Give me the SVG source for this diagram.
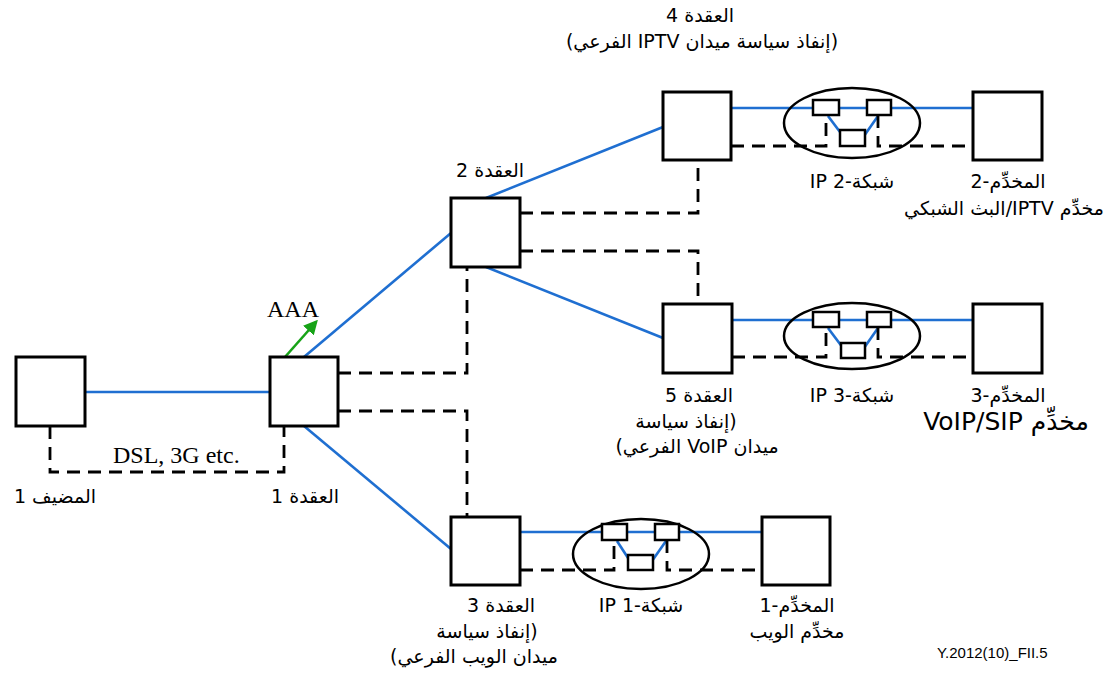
<svg xmlns="http://www.w3.org/2000/svg" width="1115" height="673" viewBox="0 0 1115 673">
  <style>
    .box { fill: #fff; stroke: #000; stroke-width: 3; }
    .sbox { fill: #fff; stroke: #000; stroke-width: 2.5; }
    .net { fill: none; stroke: #000; stroke-width: 2.5; }
    .blue { fill: none; stroke: #1f6fd1; stroke-width: 2.6; }
    .dash { fill: none; stroke: #000; stroke-width: 2.8; stroke-dasharray: 13 8; }
    .ar { font-family: "DejaVu Sans", "Noto Sans", sans-serif; font-size: 19px; fill: #000; text-anchor: middle; direction: rtl; unicode-bidi: embed; }
    .lat { font-family: "Liberation Serif", "Times New Roman", serif; font-size: 24px; fill: #000; }
    .ref { font-family: "Liberation Sans", Arial, sans-serif; font-size: 15px; fill: #000; }
  </style>
  <defs>
    <marker id="greenHead" viewBox="0 0 10 10" refX="8" refY="5" markerWidth="5.5" markerHeight="5.5" orient="auto">
      <path d="M0,0 L10,5 L0,10 Z" fill="#17a317"/>
    </marker>
  </defs>
  <rect width="1115" height="673" fill="#fff"/>

  <!-- connectors -->
  <g id="connectors">
    <!-- solid blue links -->
    <line class="blue" x1="85" y1="392" x2="270" y2="392"/>
    <line class="blue" x1="304" y1="357" x2="451" y2="233"/>
    <line class="blue" x1="304" y1="426" x2="451" y2="549"/>
    <line class="blue" x1="486" y1="198" x2="663" y2="127"/>
    <line class="blue" x1="486" y1="267" x2="663" y2="338"/>
    <line class="blue" x1="731" y1="108" x2="973" y2="108"/>
    <line class="blue" x1="732" y1="320" x2="973" y2="320"/>
    <line class="blue" x1="520" y1="532" x2="762" y2="532"/>
    <!-- links inside the IP networks -->
    <polyline class="blue" points="828,116 843,136"/>
    <polyline class="blue" points="878,116 864,136"/>
    <polyline class="blue" points="828,328 843,348"/>
    <polyline class="blue" points="878,328 864,348"/>
    <polyline class="blue" points="617,541 630,561"/>
    <polyline class="blue" points="666,541 652,561"/>

    <!-- dashed control paths -->
    <polyline class="dash" points="50,426 50,472 284,472 284,426"/>
    <polyline class="dash" points="338,373 467,373 467,267"/>
    <polyline class="dash" points="338,411 467,411 467,517"/>
    <polyline class="dash" points="520,213 698,213 698,160"/>
    <polyline class="dash" points="520,251 698,251 698,304"/>
    <polyline class="dash" points="731,146 826,146 826,115"/>
    <polyline class="dash" points="878,115 878,146 973,146"/>
    <polyline class="dash" points="732,357 826,357 826,327"/>
    <polyline class="dash" points="878,327 878,357 973,357"/>
    <polyline class="dash" points="520,570 614,570 614,540"/>
    <polyline class="dash" points="667,540 667,570 762,570"/>

    <!-- AAA signalling -->
    <line x1="285" y1="357" x2="316" y2="322" stroke="#17a317" stroke-width="2.6" marker-end="url(#greenHead)"/>
    <text class="lat" x="267" y="317">AAA</text>
    <text class="lat" x="113" y="463">DSL, 3G etc.</text>
  </g>

  <!-- host -->
  <g id="host1">
    <rect class="box" x="16" y="357" width="69" height="69"/>
    <text class="ar" x="55" y="503">المضيف 1</text>
  </g>

  <g id="node1">
    <rect class="box" x="270" y="357" width="68" height="69"/>
    <text class="ar" x="305" y="503">العقدة 1</text>
  </g>

  <g id="node2">
    <rect class="box" x="451" y="198" width="69" height="69"/>
    <text class="ar" x="490" y="177">العقدة 2</text>
  </g>

  <g id="node3">
    <rect class="box" x="451" y="517" width="69" height="68"/>
    <text class="ar" x="501" y="612">العقدة 3</text>
    <text class="ar" x="487" y="638">(إنفاذ سياسة</text>
    <text class="ar" x="474" y="663">ميدان الويب الفرعي)</text>
  </g>

  <g id="node4">
    <rect class="box" x="663" y="92" width="68" height="68"/>
    <text class="ar" x="700" y="22">العقدة 4</text>
    <text class="ar" x="702" y="48">(إنفاذ سياسة ميدان IPTV الفرعي)</text>
  </g>

  <g id="node5">
    <rect class="box" x="663" y="304" width="69" height="69"/>
    <text class="ar" x="699" y="402">العقدة 5</text>
    <text class="ar" x="686" y="428">(إنفاذ سياسة</text>
    <text class="ar" x="697" y="453">ميدان  VoIP الفرعي)</text>
  </g>

  <!-- IP networks -->
  <g id="ipnet2">
    <ellipse class="net" cx="852" cy="123" rx="68" ry="35"/>
    <rect class="sbox" x="813" y="100" width="26" height="15"/>
    <rect class="sbox" x="867" y="100" width="24" height="15"/>
    <rect class="sbox" x="840" y="130" width="25" height="16"/>
    <text class="ar" x="852" y="188">شبكة-2 IP</text>
  </g>

  <g id="ipnet3">
    <ellipse class="net" cx="852" cy="336" rx="68" ry="33"/>
    <rect class="sbox" x="813" y="312" width="26" height="15"/>
    <rect class="sbox" x="867" y="312" width="24" height="15"/>
    <rect class="sbox" x="841" y="343" width="24" height="15"/>
    <text class="ar" x="852" y="402">شبكة-3 IP</text>
  </g>

  <g id="ipnet1">
    <ellipse class="net" cx="641" cy="554" rx="68" ry="35"/>
    <rect class="sbox" x="602" y="524" width="25" height="16"/>
    <rect class="sbox" x="655" y="524" width="24" height="16"/>
    <rect class="sbox" x="628" y="555" width="25" height="15"/>
    <text class="ar" x="641" y="612">شبكة-1 IP</text>
  </g>

  <!-- servers -->
  <g id="server2">
    <rect class="box" x="973" y="92" width="69" height="68"/>
    <text class="ar" x="1008" y="188">المخدِّم-2</text>
    <text class="ar" x="1004" y="215">مخدِّم IPTV/البث الشبكي</text>
  </g>

  <g id="server3">
    <rect class="box" x="973" y="304" width="69" height="69"/>
    <text class="ar" x="1008" y="402">المخدِّم-3</text>
    <text class="ar" x="1006" y="430" style="font-size:25px">مخدِّم VoIP/SIP</text>
  </g>

  <g id="server1">
    <rect class="box" x="762" y="517" width="68" height="68"/>
    <text class="ar" x="797" y="612">المخدِّم-1</text>
    <text class="ar" x="797" y="638">مخدِّم الويب</text>
  </g>

  <text class="ref" x="937" y="658">Y.2012(10)_FII.5</text>
</svg>
